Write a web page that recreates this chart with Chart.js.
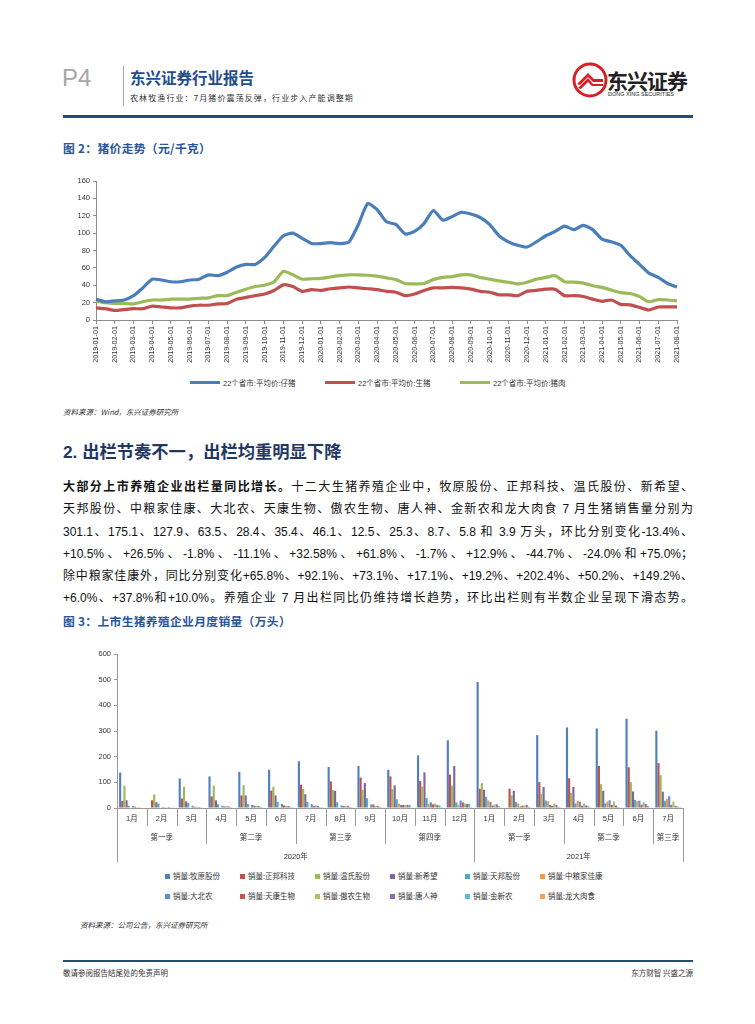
<!DOCTYPE html>
<html>
<head>
<meta charset="utf-8">
<script src="https://cdn.jsdelivr.net/npm/chart.js@4.4.1/dist/chart.umd.min.js"></script>
<style>
  body { margin: 0; background: #fff; font-family: "Liberation Sans", "Noto Sans CJK SC", sans-serif; }
  #page { position: relative; width: 755px; height: 1024px; overflow: hidden; }
  .abs { position: absolute; white-space: nowrap; }
  .p4 { left: 62px; top: 64px; font-size: 24px; color: #a6a6a6; font-family: "Liberation Sans", sans-serif; }
  .vbar { left: 123px; top: 66px; width: 1px; height: 40px; background: #a6a6a6; }
  .title { left: 130px; top: 66px; font-size: 15.5px; font-weight: bold; color: #1f4e8c; font-family: "Noto Sans CJK SC", sans-serif; }
  .subtitle { left: 130px; top: 92px; font-size: 8px; letter-spacing: 1.1px; color: #333; font-family: "Noto Sans CJK SC", sans-serif; }
  .topline { left: 63px; top: 115px; width: 630px; height: 3px; background: #1f4e79; }
  .logoText { left: 607px; top: 65px; font-size: 21px; font-weight: bold; color: #222; font-family: "Noto Sans CJK SC", sans-serif; letter-spacing: -1px; }
  .logoSub { left: 608px; top: 91px; font-size: 5.5px; color: #222; font-family: "Liberation Sans", sans-serif; }
  .figTitle { font-size: 11.8px; letter-spacing: 0.3px; font-weight: bold; color: #2a5597; font-family: "Noto Sans CJK SC", sans-serif; }
  .source { font-size: 7.5px; font-style: italic; color: #333; font-family: "Noto Sans CJK SC", sans-serif; }
  .heading { left: 63px; top: 438px; font-size: 17.3px; font-weight: bold; color: #1f3864; font-family: "Liberation Sans", "Noto Sans CJK SC", sans-serif; }
  #para { position: absolute; left: 63px; top: 476px; width: 630px; font-size: 12px; line-height: 22.3px; color: #111; }
  #para div { text-align: justify; text-align-last: justify; }
  .legend { position: absolute; display: grid; font-size: 7.5px; color: #333; font-family: "Liberation Sans", "Noto Sans CJK SC", sans-serif; }
  #legend1 { left: 190px; top: 377px; grid-template-columns: repeat(3, 135px); }
  #legend1 span.sw { display: inline-block; width: 30px; height: 3px; margin-right: 3px; vertical-align: 2px; }
  #legend2 { left: 165px; top: 870px; grid-template-columns: repeat(6, 75px); row-gap: 9px; }
  #legend2 span.sw { display: inline-block; width: 5px; height: 5px; margin-right: 3px; vertical-align: 0px; }
  .footline { left: 63px; top: 960px; width: 630px; height: 1.5px; background: #1f4e79; }
  .foot { top: 967px; font-size: 7.5px; color: #333; font-family: "Noto Sans CJK SC", sans-serif; }
  canvas { position: absolute; }
</style>
</head>
<body>
<div id="page">
  <div class="abs p4">P4</div>
  <div class="abs vbar"></div>
  <div class="abs title">东兴证券行业报告</div>
  <div class="abs subtitle">农林牧渔行业：7月猪价震荡反弹，行业步入产能调整期</div>
  <svg class="abs" style="left:572px;top:62px" width="36" height="36" viewBox="0 0 36 36">
    <circle cx="18" cy="18" r="16" fill="#fff" stroke="#d71f26" stroke-width="3"/>
    <path d="M5 22 L16 11 L22 17 L31 17 L31 20 L21 20 L16 15 L8 23 Z" fill="#d71f26"/>
    <path d="M6 26 L16 16 L21 22 L31 22 L31 24 L20 24 L16 20 L9 27 Z" fill="#d71f26"/>
  </svg>
  <div class="abs logoText">东兴证券</div>
  <div class="abs logoSub">DONG XING SECURITIES</div>
  <div class="abs topline"></div>

  <div class="abs figTitle" style="left:63px;top:139px">图 2：猪价走势（元/千克）</div>
  <canvas id="priceChart" width="630" height="194" style="left:63px;top:172px"></canvas>
  <div id="legend1" class="legend"></div>
  <div class="abs source" style="left:63px;top:406px">资料来源：Wind，东兴证券研究所</div>

  <div class="abs heading">2. 出栏节奏不一，出栏均重明显下降</div>
  <div id="para">
    <div><b>大部分上市养殖企业出栏量同比增长。</b>十二大生猪养殖企业中，牧原股份、正邦科技、温氏股份、新希望、</div>
    <div>天邦股份、中粮家佳康、大北农、天康生物、傲农生物、唐人神、金新农和龙大肉食 7 月生猪销售量分别为</div>
    <div>301.1、175.1、127.9、63.5、28.4、35.4、46.1、12.5、25.3、8.7、5.8 和 3.9 万头，环比分别变化-13.4%、</div>
    <div>+10.5%、+26.5%、-1.8%、-11.1%、+32.58%、+61.8%、-1.7%、+12.9%、-44.7%、-24.0%和+75.0%；</div>
    <div>除中粮家佳康外，同比分别变化+65.8%、+92.1%、+73.1%、+17.1%、+19.2%、+202.4%、+50.2%、+149.2%、</div>
    <div>+6.0%、+37.8%和+10.0%。养殖企业 7 月出栏同比仍维持增长趋势，环比出栏则有半数企业呈现下滑态势。</div>
  </div>

  <div class="abs figTitle" style="left:63px;top:612px">图 3：上市生猪养殖企业月度销量（万头）</div>
  <canvas id="salesChart" width="630" height="225" style="left:63px;top:640px"></canvas>
  <div id="legend2" class="legend"></div>
  <div class="abs source" style="left:80px;top:919px">资料来源：公司公告，东兴证券研究所</div>

  <div class="abs footline"></div>
  <div class="abs foot" style="left:63px">敬请参阅报告结尾处的免责声明</div>
  <div class="abs foot" style="right:62px">东方财智 兴盛之源</div>
</div>

<script>
// ---- 图2 猪价走势 (semi-monthly readings) ----
const monthTicks = ['2019-01-01', '2019-02-01', '2019-03-01', '2019-04-01', '2019-05-01', '2019-06-01', '2019-07-01', '2019-08-01',
  '2019-09-01', '2019-10-01', '2019-11-01', '2019-12-01', '2020-01-01', '2020-02-01', '2020-03-01', '2020-04-01',
  '2020-05-01', '2020-06-01', '2020-07-01', '2020-08-01', '2020-09-01', '2020-10-01', '2020-11-01', '2020-12-01',
  '2021-01-01', '2021-02-01', '2021-03-01', '2021-04-01', '2021-05-01', '2021-06-01', '2021-07-01', '2021-08-01'];

const pigletPrice = [24, 21, 22, 23, 28, 37, 47, 46, 44, 44, 46, 47, 52, 51, 55, 61, 64, 64, 72, 85,
  97, 100, 94, 88, 88, 89, 88, 90, 110, 134, 127, 113, 110, 99, 102, 111, 126, 115, 119, 124,
  122, 118, 110, 97, 90, 86, 84, 90, 97, 102, 108, 104, 109, 104, 93, 90, 86, 74, 64, 54,
  49, 42, 38];
const hogPrice = [14, 13, 11, 12, 13, 13, 16, 15, 14, 14, 16, 17, 17, 18.5, 19, 24, 26, 28, 30, 34,
  40.5, 38.5, 33, 35, 34, 36, 37, 38, 37, 36, 35, 33, 32, 28, 30, 34, 37, 37, 37.5, 37,
  35.5, 33, 32, 29, 29, 28, 33, 34, 35.5, 35.5, 28, 28, 27, 24, 21.5, 23, 18, 17.5, 14.5, 11.5,
  15, 15, 15];
const porkPrice = [22, 20, 19, 19, 18.5, 21, 23, 23, 24, 24, 24, 25, 25.5, 28, 28, 32, 35.5, 38.5, 40, 44,
  56, 52, 47, 47.5, 48, 49.5, 51, 52, 52, 51.5, 50.5, 48.5, 46.5, 42, 41.5, 42, 46.5, 49, 50, 52,
  52, 49, 47, 45, 43.5, 41.5, 43.5, 47, 49, 51, 44, 43.5, 42.5, 39.5, 37.5, 34.5, 31.5, 30.5, 27, 21,
  23.5, 23, 22];
const priceLabels = ['22个省市:平均价:仔猪', '22个省市:平均价:生猪', '22个省市:平均价:猪肉'];
const priceColors = ['#4a7ebb', '#c0504d', '#9bbb59'];

const priceDates = [];
monthTicks.forEach((m, i) => {
  priceDates.push(m);
  if (i < monthTicks.length - 1) priceDates.push(m.slice(0, 8) + '16');
});

const axisGrey = '#8c8c8c';
const tickFont = { family: "'Liberation Sans', sans-serif", size: 7.2 };

new Chart(document.getElementById('priceChart'), {
  type: 'line',
  data: {
    labels: priceDates,
    datasets: [pigletPrice, hogPrice, porkPrice].map((d, k) => ({
      label: priceLabels[k],
      data: d,
      borderColor: priceColors[k],
      backgroundColor: priceColors[k],
      borderWidth: 3.2,
      pointRadius: 0,
      tension: 0.2
    }))
  },
  options: {
    responsive: false,
    animation: false,
    layout: { padding: { left: 0, right: 16, top: 9, bottom: 0 } },
    plugins: { tooltip: { enabled: false }, legend: { display: false } },
    scales: {
      x: {
        grid: { drawOnChartArea: false, tickLength: 4, color: c => (c.index % 2 === 0 ? axisGrey : 'rgba(0,0,0,0)') },
        border: { color: axisGrey },
        ticks: {
          autoSkip: false, minRotation: 90, maxRotation: 90, padding: 2, color: '#333', font: tickFont,
          callback: (v, i) => (i % 2 === 0 ? priceDates[i] : '')
        },
        afterFit: s => { s.height = 46; }
      },
      y: {
        min: 0, max: 160,
        grid: { drawOnChartArea: false, tickLength: 3, color: axisGrey },
        border: { color: axisGrey },
        ticks: { stepSize: 20, color: '#333', font: { family: "'Liberation Sans', sans-serif", size: 7.5 } },
        afterFit: s => { s.width = 33; }
      }
    }
  }
});

// ---- 图3 上市生猪养殖企业月度销量 ----
const monthLabels = ['1月', '2月', '3月', '4月', '5月', '6月', '7月', '8月', '9月', '10月', '11月', '12月',
  '1月', '2月', '3月', '4月', '5月', '6月', '7月'];
const quarterLabels = ['第一季', '第二季', '第三季', '第四季', '第一季', '第二季', '第三季'];
const quarterSpans = [3, 3, 3, 3, 3, 3, 1];
const yearLabels = ['2020年', '2021年'];
const yearSpans = [12, 7];

const companies = ['牧原股份', '正邦科技', '温氏股份', '新希望', '天邦股份', '中粮家佳康',
  '大北农', '天康生物', '傲农生物', '唐人神', '金新农', '龙大肉食'];
const companyColors = ['#4f81bd', '#c0504d', '#9bbb59', '#8064a2', '#4bacc6', '#f79646',
  '#5b8fd0', '#d0504d', '#a6c564', '#8a6bb0', '#55bcd6', '#f9a055'];

const muyuan      = [138, null, 115, 123, 141, 149, 182, 160, 164, 149, 205, 264, 491, null, 284, 314, 310, 348, 301.1];
const zhengbang   = [27, 30, 37, 45, 49, 68, 91, 104, 119, 123, 105, 130, 75, 75, 101, 116, 164, 158.5, 175.1];
const wens        = [87, 53, 83, 87, 89, 83, 74, 71, 71, 74, 83, 87, 97, 49, 55, 59, 93, 101, 127.9];
const newHope     = [30, 23, 26, 30, 49, 49, 54, 67, 97, 88, 139, 164, 71, 67, 82, 82, 67, 64.7, 63.5];
const tianbang    = [9, 17, 20, 15, 16, 24, 24, 23, 38, 34, 39, 22, 43, 24, 29, 18, 18, 31.9, 28.4];
const cofcoJjk    = [null, null, null, null, null, null, null, null, null, 17, 17, 12, 29, 18, 26, 28, 25, 26.7, 35.4];
const dabeinong   = [8, 4, 9, 9, 12, 16, 15, 10, 14, 12, 22, 29, 24, 6, 12, 25, 30, 28.5, 46.1];
const tiankang    = [5, 3, 5, 6, 9, 10, 8, 8, 14, 12, 14, 22, 9, 9, 8, 9, 12, 12.7, 12.5];
const aonong      = [3, 3, 5, 8, 9, 9, 10, 8, 8, 12, 17, 17, 14, 10, 18, 18, 25, 22.4, 25.3];
const tangrenshen = [3, 4, 4, 6, 8, 8, 8, 8, 8, 12, 12, 16, 14, 12, 12, 10, 10, 15.7, 8.7];
const jinxinnong  = [2, 2, 3, 3, 5, 5, 4, 4, 5, 12, 10, 16, 7, 5, 5, 7, 4, 7.6, 5.8];
const longda      = [2, 1, 2, 2, 3, 3, 3.5, 3, 3, 3, 4, 4, 3, 3, 3, 3, 3, 2.2, 3.9];
const salesSeries = [muyuan, zhengbang, wens, newHope, tianbang, cofcoJjk,
  dabeinong, tiankang, aonong, tangrenshen, jinxinnong, longda];

const lineGrey = '#9a9a9a';
const multiLevelAxis = {
  id: 'multiLevelAxis',
  afterDraw(chart) {
    const x = chart.scales.x;
    const ctx = chart.ctx;
    const y0 = x.top;
    const edge = b => x.getPixelForValue(b - 0.5);
    ctx.save();
    ctx.strokeStyle = lineGrey;
    ctx.lineWidth = 1;
    ctx.fillStyle = '#333';
    ctx.textAlign = 'center';
    ctx.textBaseline = 'middle';
    ctx.font = "7.5px 'Liberation Sans', 'Noto Sans CJK SC'";
    const qBounds = [0], yBounds = [0];
    quarterSpans.reduce((s, n) => { qBounds.push(s + n); return s + n; }, 0);
    yearSpans.reduce((s, n) => { yBounds.push(s + n); return s + n; }, 0);
    for (let b = 0; b <= monthLabels.length; b++) {
      let len = 18;
      if (qBounds.includes(b)) len = 36;
      if (yBounds.includes(b)) len = 54;
      const px = Math.round(edge(b)) + 0.5;
      ctx.beginPath();
      ctx.moveTo(px, y0);
      ctx.lineTo(px, y0 + len);
      ctx.stroke();
    }
    monthLabels.forEach((m, i) => ctx.fillText(m, x.getPixelForValue(i), y0 + 11));
    quarterLabels.forEach((q, i) => ctx.fillText(q, (edge(qBounds[i]) + edge(qBounds[i + 1])) / 2, y0 + 30));
    yearLabels.forEach((t, i) => ctx.fillText(t, (edge(yBounds[i]) + edge(yBounds[i + 1])) / 2, y0 + 49));
    ctx.restore();
  }
};

new Chart(document.getElementById('salesChart'), {
  type: 'bar',
  data: {
    labels: monthLabels.map((m, i) => (i < 12 ? '2020-' : '2021-') + m),
    datasets: salesSeries.map((d, k) => ({
      label: '销量:' + companies[k],
      data: d,
      backgroundColor: companyColors[k],
      categoryPercentage: 0.86,
      barPercentage: 1.0
    }))
  },
  options: {
    responsive: false,
    animation: false,
    layout: { padding: { left: 0, right: 10, top: 14, bottom: 2 } },
    plugins: { legend: { display: false }, tooltip: { enabled: false } },
    scales: {
      x: {
        grid: { display: false },
        border: { color: lineGrey },
        ticks: { display: false },
        afterFit: s => { s.height = 55; }
      },
      y: {
        min: 0, max: 600,
        grid: { drawOnChartArea: false, tickLength: 3, color: lineGrey },
        border: { color: lineGrey },
        ticks: { stepSize: 100, color: '#333', font: { family: "'Liberation Sans', sans-serif", size: 7.5 } },
        afterFit: s => { s.width = 54; }
      }
    }
  },
  plugins: [multiLevelAxis]
});

// HTML legends built from the same series names and colours
const legend1 = document.getElementById('legend1');
priceLabels.forEach((t, k) => {
  const item = document.createElement('div');
  item.innerHTML = '<span class="sw" style="background:' + priceColors[k] + '"></span>' + t;
  legend1.appendChild(item);
});
const legend2 = document.getElementById('legend2');
companies.forEach((c, k) => {
  const item = document.createElement('div');
  item.innerHTML = '<span class="sw" style="background:' + companyColors[k] + '"></span>销量:' + c;
  legend2.appendChild(item);
});
</script>
</body>
</html>
